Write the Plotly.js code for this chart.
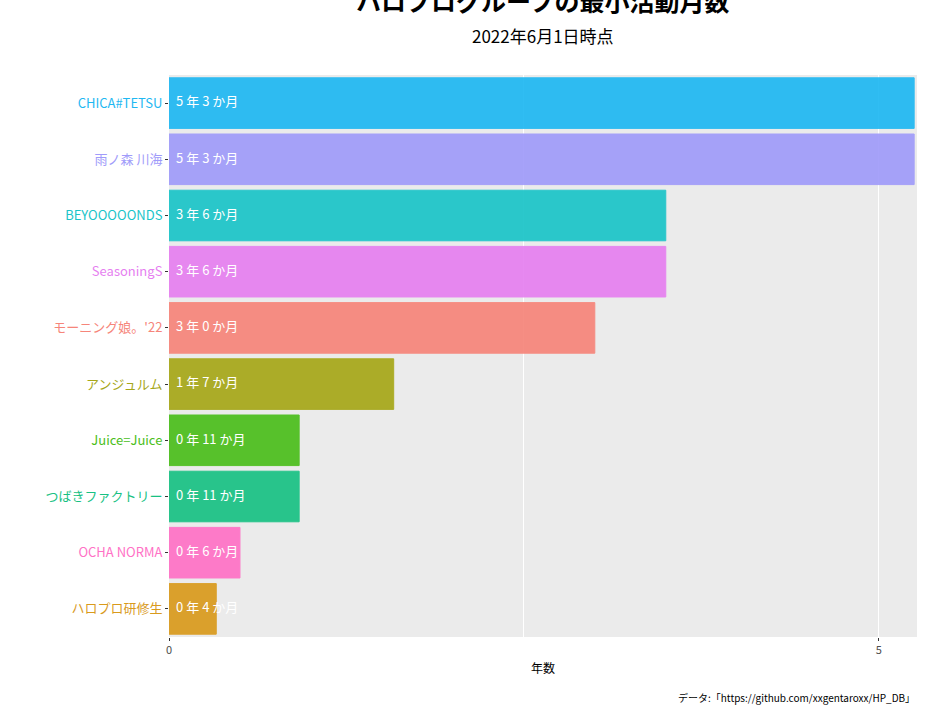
<!DOCTYPE html>
<html><head><meta charset="utf-8">
<script src="https://cdn.plot.ly/plotly-3.0.1.min.js"></script>
</head><body style="margin:0">
<div id="chart" style="width:944px;height:708px"></div>
<script>
var groups = ['CHICA#TETSU','雨ノ森 川海','BEYOOOOONDS','SeasoningS','モーニング娘。\'22','アンジュルム','Juice=Juice','つばきファクトリー','OCHA NORMA','ハロプロ研修生'];
var years = [5.25, 5.25, 3.5, 3.5, 3.0, 1.583, 0.917, 0.917, 0.5, 0.333];
var labels = ['5 年 3 か月','5 年 3 か月','3 年 6 か月','3 年 6 か月','3 年 0 か月','1 年 7 か月','0 年 11 か月','0 年 11 か月','0 年 6 か月','0 年 4 か月'];
var colors = ['#1FB8F2','#A09BFA','#1AC4C8','#E67FF0','#F6857A','#A6A718','#4BBE1B','#18C183','#FF71C6','#D99A1C'];

var ticktext = groups.map(function(g, i){ return '<span style="color:' + colors[i] + '">' + g + '</span>'; });

var bars = {
  type: 'bar', orientation: 'h',
  y: groups, x: years,
  marker: {color: colors, opacity: 0.92, line: {color: colors, width: 1}},
  width: 0.9, hoverinfo: 'none'
};
var text = {
  type: 'scatter', mode: 'text',
  y: groups, x: groups.map(function(){ return 0.05; }),
  text: labels, textposition: 'middle right',
  textfont: {color: 'white', size: 13},
  hoverinfo: 'none'
};

var layout = {
  width: 944, height: 708,
  margin: {l: 169, r: 27, t: 75, b: 71},
  paper_bgcolor: 'white', plot_bgcolor: '#EBEBEB',
  showlegend: false,
  font: {family: 'Noto Sans CJK JP, sans-serif', size: 13},
  title: {text: '<b>ハロプログループの最小活動月数</b><br><span style="font-size:17px">2022年6月1日時点</span>',
          x: 0.575, xanchor: 'center', y: 0.985, yanchor: 'top', font: {size: 25, color: 'black'}},
  xaxis: {range: [0, 5.27], tickvals: [0, 5], ticks: 'outside', ticklen: 3, tickcolor: '#333',
          gridcolor: 'white', zeroline: false, tickfont: {size: 11, color: '#4D4D4D'},
          title: {text: '年数', font: {size: 12, color: 'black'}, standoff: 8},
          minor: {tickvals: [2.5], gridcolor: 'white', gridwidth: 1, showgrid: true}},
  yaxis: {categoryorder: 'array', categoryarray: groups, autorange: 'reversed',
          tickvals: groups, ticktext: ticktext, ticks: 'outside', ticklen: 3, tickcolor: '#333',
          showgrid: false, tickfont: {size: 13}, range: [9.5, -0.5]},
  annotations: [{text: 'データ:「https://github.com/xxgentaroxx/HP_DB」', xref: 'paper', yref: 'paper',
                 x: 1, y: -0.09, xanchor: 'right', yanchor: 'top', showarrow: false,
                 font: {size: 10, color: 'black'}}]
};
Plotly.newPlot('chart', [bars, text], layout, {displayModeBar: false});
</script>
</body></html>
